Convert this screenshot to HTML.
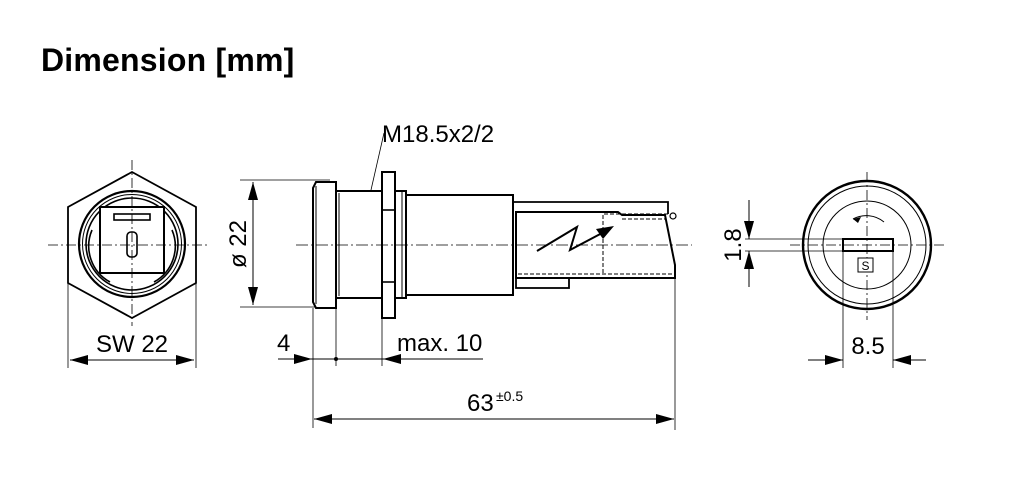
<!DOCTYPE html>
<html><head><meta charset="utf-8"><style>
html,body{margin:0;padding:0;background:#fff;}
svg{display:block;}
text{font-family:"Liberation Sans",Arial,sans-serif;fill:#000;}
</style></head><body>
<svg width="1013" height="500" viewBox="0 0 1013 500" xmlns="http://www.w3.org/2000/svg">
<defs>
<marker id="b" viewBox="0 0 18 10" refX="18" refY="5" markerWidth="18" markerHeight="10" markerUnits="userSpaceOnUse" orient="auto-start-reverse"><path d="M0,0L18,5L0,10z" fill="#000"/></marker>
</defs>
<text x="41" y="71" font-size="32" font-weight="bold" letter-spacing="0.2">Dimension [mm]</text>

<!-- Hex view -->
<g stroke="#000" fill="none">
<polygon points="132,172 196,207 196,283 132,318 68,283 68,207" stroke-width="1.8"/>
<circle cx="132" cy="244" r="53" stroke-width="2.2"/>
<circle cx="132" cy="244" r="49.5" stroke-width="1"/>
<circle cx="132" cy="244" r="46" stroke-width="1.6"/>
<path d="M92,230 A41,41 0 0 0 110,282 M172,230 A41,41 0 0 1 154,282" stroke-width="1.6"/>
<rect x="100" y="207" width="64" height="66" stroke-width="2" fill="#fff"/>
<rect x="114" y="214" width="36" height="6" stroke-width="1.6"/>
<rect x="127" y="232" width="10" height="25" rx="4" stroke-width="1.6"/>
<line x1="48" y1="245" x2="208" y2="245" stroke-width="0.8" stroke-dasharray="10,3,2,3"/>
<line x1="132" y1="160" x2="132" y2="326" stroke-width="0.8" stroke-dasharray="10,3,2,3"/>
<line x1="68" y1="283" x2="68" y2="368" stroke-width="0.8"/>
<line x1="196" y1="283" x2="196" y2="368" stroke-width="0.8"/>
<line x1="70" y1="360" x2="194" y2="360" stroke-width="1" marker-start="url(#b)" marker-end="url(#b)"/>
</g>
<text x="132" y="352" font-size="24" text-anchor="middle">SW 22</text>

<!-- diameter dim -->
<g stroke="#000" fill="none">
<line x1="240" y1="180" x2="330" y2="180" stroke-width="0.8"/>
<line x1="240" y1="307" x2="330" y2="307" stroke-width="0.8"/>
<line x1="253" y1="182" x2="253" y2="305" stroke-width="1" marker-start="url(#b)" marker-end="url(#b)"/>
</g>
<text transform="translate(246,244) rotate(-90)" font-size="24" text-anchor="middle">ø 22</text>

<!-- Side view -->
<g stroke="#000" fill="#fff">
<path d="M316,182 L336,182 L336,308 L316,308 L313,302 L313,188 Z" stroke-width="2"/>
<line x1="316" y1="186" x2="316" y2="304" stroke-width="1"/>
<rect x="336" y="191" width="46" height="107" stroke-width="2"/>
<line x1="339" y1="193" x2="339" y2="296" stroke-width="1"/>
<rect x="382" y="172" width="13" height="146" stroke-width="2"/>
<line x1="382" y1="210" x2="395" y2="210" stroke-width="1.6"/>
<line x1="382" y1="282" x2="395" y2="282" stroke-width="1.6"/>
<rect x="395" y="191" width="11" height="107" stroke-width="2"/>
<line x1="402" y1="191" x2="402" y2="298" stroke-width="1"/>
<rect x="406" y="195" width="107" height="100" stroke-width="2"/>
<path d="M513,202 L668,202 L668,214" fill="none" stroke-width="1.8"/>
<rect x="516" y="276" width="53" height="12" stroke-width="1.8"/>
<path d="M516,212 L618,212 L622,215 L665,215 L675,265 L675,278 L516,278 Z" stroke-width="2"/>
<circle cx="673" cy="216" r="3" fill="none" stroke-width="1.2"/>
</g>
<g stroke="#000" fill="none" stroke-width="1" stroke-dasharray="4,2">
<line x1="604" y1="214" x2="670" y2="214"/>
<line x1="622" y1="219" x2="665" y2="219"/>
<line x1="603" y1="215" x2="603" y2="275"/>
<line x1="518" y1="274" x2="675" y2="274"/>
</g>
<path d="M537,251 L577,227 L570,250 L604,232" stroke="#000" stroke-width="2" fill="none"/>
<path d="M614,226 L596,229 L603,239 Z" fill="#000"/>
<line x1="296" y1="245" x2="692" y2="245" stroke="#000" stroke-width="0.8" stroke-dasharray="12,3,2,3"/>
<line x1="371" y1="190" x2="384" y2="133" stroke="#000" stroke-width="0.8"/>
<text x="382" y="142" font-size="24">M18.5x2/2</text>

<!-- bottom dims -->
<g stroke="#000" fill="none" stroke-width="0.8">
<line x1="313" y1="308" x2="313" y2="428"/>
<line x1="336" y1="298" x2="336" y2="366"/>
<line x1="382" y1="318" x2="382" y2="366"/>
<line x1="675" y1="278" x2="675" y2="430"/>
<line x1="278" y1="359" x2="312" y2="359" stroke-width="1" marker-end="url(#b)"/>
<line x1="311" y1="359" x2="384" y2="359" stroke-width="1"/>
<line x1="483" y1="359" x2="383" y2="359" stroke-width="1" marker-end="url(#b)"/>
<line x1="314" y1="419" x2="674" y2="419" stroke-width="1" marker-start="url(#b)" marker-end="url(#b)"/>
</g>
<circle cx="336" cy="359" r="2" fill="#000"/>
<text x="277" y="351" font-size="24">4</text>
<text x="397" y="351" font-size="24">max. 10</text>
<text x="467" y="411" font-size="24">63</text>
<text x="496" y="401" font-size="14">±0.5</text>

<!-- Right view -->
<g stroke="#000" fill="none">
<circle cx="867" cy="245" r="64" stroke-width="2.4"/>
<circle cx="867" cy="245" r="59" stroke-width="1"/>
<circle cx="867" cy="245" r="44" stroke-width="1"/>
<path d="M884,222 A28,28 0 0 0 853,219" stroke-width="1"/>
<line x1="790" y1="245" x2="946" y2="245" stroke-width="0.8" stroke-dasharray="10,3,2,3"/>
<line x1="867" y1="172" x2="867" y2="320" stroke-width="0.8" stroke-dasharray="10,3,2,3"/>
<rect x="843" y="239" width="50" height="12" stroke-width="2"/>
<rect x="858" y="258" width="15" height="14" fill="#fff" stroke-width="1"/>
<line x1="745" y1="239" x2="843" y2="239" stroke-width="0.8"/>
<line x1="745" y1="251" x2="843" y2="251" stroke-width="0.8"/>
<line x1="749" y1="200" x2="749" y2="239" stroke-width="1" marker-end="url(#b)"/>
<line x1="749" y1="287" x2="749" y2="251" stroke-width="1" marker-end="url(#b)"/>
<line x1="843" y1="251" x2="843" y2="368" stroke-width="0.8"/>
<line x1="893" y1="251" x2="893" y2="368" stroke-width="0.8"/>
<line x1="808" y1="360" x2="843" y2="360" stroke-width="1" marker-end="url(#b)"/>
<line x1="926" y1="360" x2="893" y2="360" stroke-width="1" marker-end="url(#b)"/>
</g>
<text x="865.5" y="270" font-size="12" text-anchor="middle">S</text>
<path d="M853,219 l8,-2 l-3,6 z" fill="#000"/>
<text transform="translate(741,245) rotate(-90)" font-size="24" text-anchor="middle">1.8</text>
<text x="868" y="354" font-size="24" text-anchor="middle">8.5</text>
</svg>
</body></html>
